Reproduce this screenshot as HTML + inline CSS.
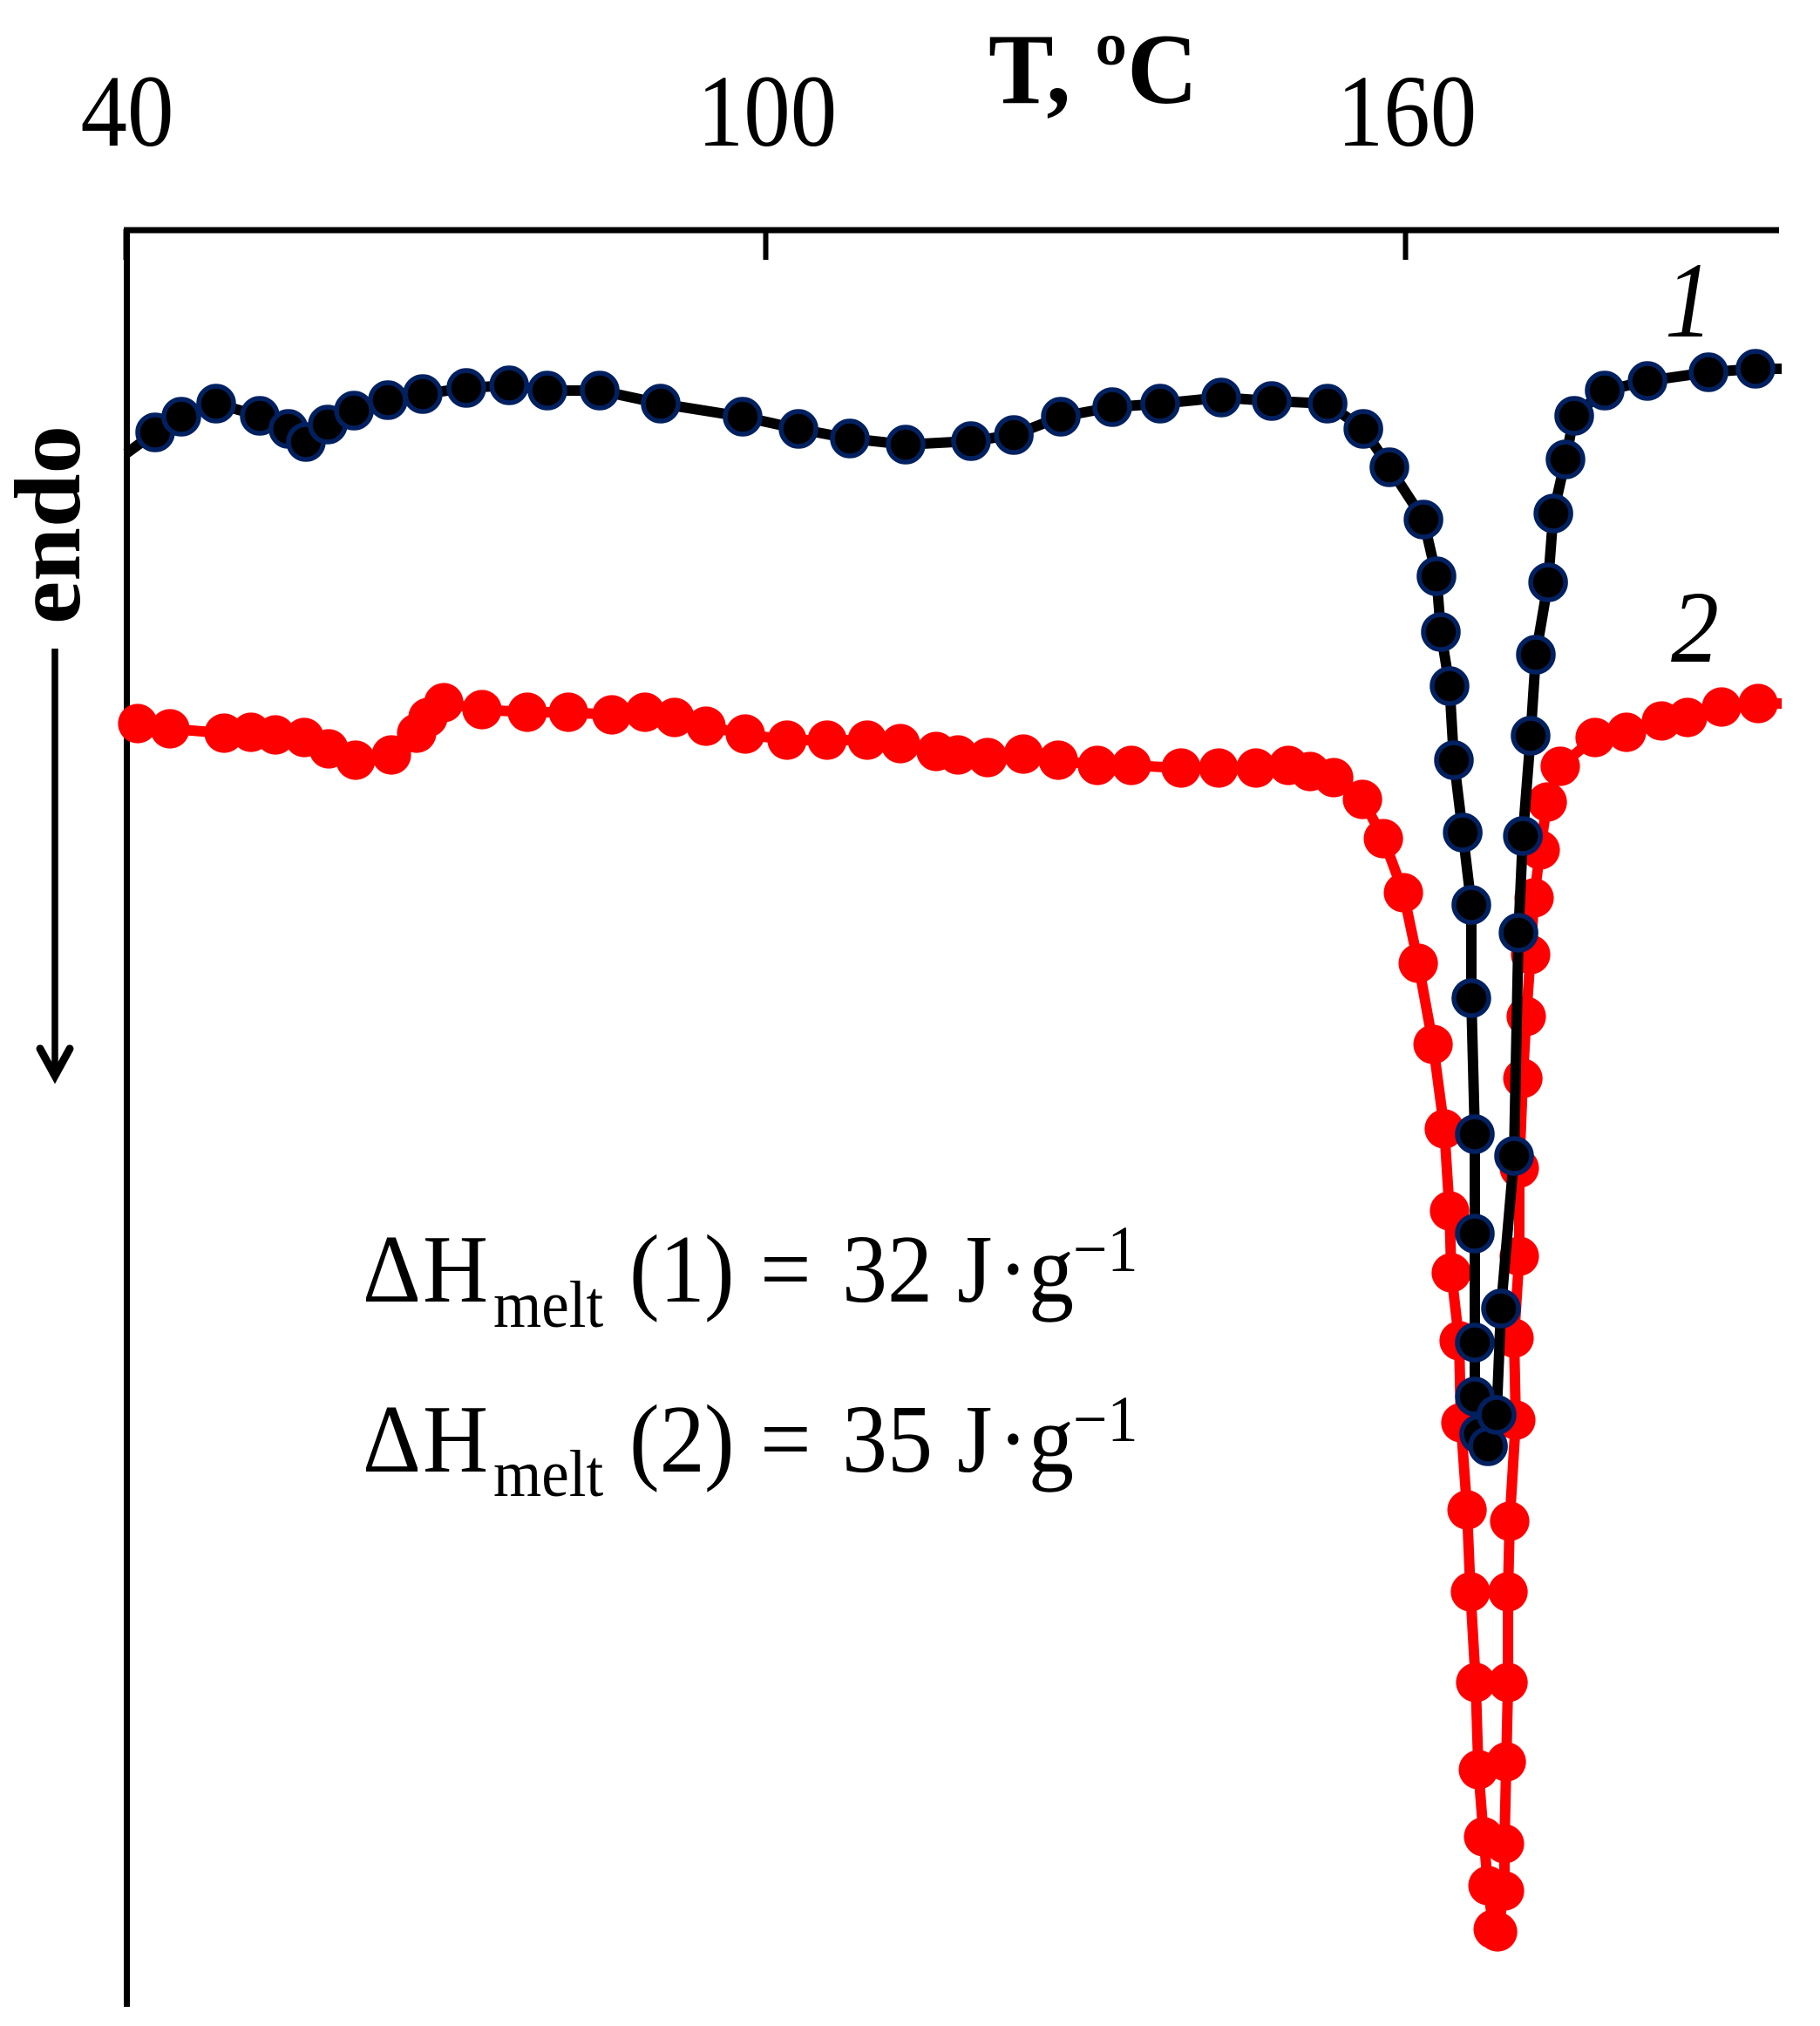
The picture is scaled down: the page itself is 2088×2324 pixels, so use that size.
<!DOCTYPE html>
<html lang="en">
<head>
<meta charset="utf-8">
<title>DSC melting curves</title>
<style>
  html, body { margin: 0; padding: 0; background: #fff; }
  svg { display: block; }
  text { font-family: "Liberation Serif", serif; fill: #000; }
</style>
</head>
<body>
<svg id="chart" xmlns="http://www.w3.org/2000/svg" width="2088" height="2324" viewBox="0 0 2088 2324">
  <rect x="0" y="0" width="2088" height="2324" fill="#fff"/>
  <g id="axes">
    <line x1="145.5" y1="260.5" x2="145.5" y2="2302" stroke="#000" stroke-width="7"/>
    <line x1="142" y1="264" x2="2041" y2="264" stroke="#000" stroke-width="7"/>
  </g>
  <g id="ticks"></g>
  <g id="curves"></g>

  <text transform="translate(1134,118) scale(1,1.05)" font-size="110" font-weight="bold" textLength="240" lengthAdjust="spacingAndGlyphs">T, ºC</text>

  <text transform="translate(1910,386) scale(1,1.13)" font-size="110" font-style="italic">1</text>
  <text transform="translate(1917,759) scale(1,1.07)" font-size="110" font-style="italic">2</text>

  <text transform="translate(91,716) rotate(-90)" font-size="108" font-weight="bold" textLength="228" lengthAdjust="spacingAndGlyphs">endo</text>
  <g>
    <line x1="63" y1="744" x2="63" y2="1232" stroke="#000" stroke-width="7.5"/>
    <path d="M46,1203 L63,1234 L80,1203" fill="none" stroke="#000" stroke-width="9" stroke-linecap="round" stroke-linejoin="miter"/>
    <polygon points="55,1220 71,1220 63,1242" fill="#000"/>
  </g>

  <g>
    <text transform="translate(0,1493) scale(1,1.07)" font-size="104"><tspan x="416">Δ</tspan><tspan x="485">H</tspan><tspan x="722">(1</tspan><tspan x="808">)</tspan><tspan x="872">=</tspan><tspan x="966">32</tspan><tspan x="1098">J</tspan><tspan x="1145">·</tspan><tspan x="1180">g</tspan></text>
    <text transform="translate(566,1522) scale(1,1.07)" font-size="71">melt</text>
    <text transform="translate(1231,1458) scale(1,1.07)" font-size="70">−1</text>
  </g>
  <g>
    <text transform="translate(0,1688) scale(1,1.07)" font-size="104"><tspan x="416">Δ</tspan><tspan x="485">H</tspan><tspan x="722">(2</tspan><tspan x="808">)</tspan><tspan x="872">=</tspan><tspan x="966">35</tspan><tspan x="1098">J</tspan><tspan x="1145">·</tspan><tspan x="1180">g</tspan></text>
    <text transform="translate(566,1716) scale(1,1.07)" font-size="71">melt</text>
    <text transform="translate(1231,1653) scale(1,1.07)" font-size="70">−1</text>
  </g>
</svg>
<script>
// Axis values
const xTickValues = [40, 100, 160];
const xTickLabels = ["40", "100", "160"];

// Curve 1 (black): temperature in deg C, heat flow in arbitrary units
const curve1Temp = [40.00,42.70,45.15,48.42,52.51,55.20,56.84,58.88,61.34,64.52,
  67.79,71.88,75.89,79.48,84.39,90.11,97.79,103.03,107.85,113.08,
  119.21,123.22,127.63,132.45,136.95,142.67,147.41,152.65,156.00,158.45,
  161.64,162.86,163.27,164.09,164.50,165.32,166.13,166.13,166.46,166.46,
  166.46,166.46,166.87,167.69,168.50,168.91,170.14,170.55,170.96,171.69,
  172.18,173.33,173.82,174.96,175.78,178.64,182.65,188.37,192.78,195.24];
const curve1Signal = [-25.7,-23.3,-21.5,-20.0,-21.4,-22.9,-24.4,-22.4,-20.8,-19.6,
  -18.9,-18.2,-17.9,-18.5,-18.5,-20.0,-21.5,-22.9,-24.0,-24.7,
  -24.3,-23.6,-21.5,-20.4,-20.0,-19.3,-19.7,-20.0,-22.9,-27.3,
  -33.3,-39.8,-46.2,-52.4,-60.9,-69.2,-77.5,-88.2,-103.8,-115.2,
  -127.7,-133.9,-138.2,-139.6,-136.0,-123.8,-106.3,-80.7,-69.6,-58.1,
  -48.8,-40.5,-32.6,-26.4,-21.4,-18.5,-17.4,-16.4,-16.0,-16.0];

// Curve 2 (red): temperature in deg C, heat flow in arbitrary units
const curve2Temp = [41.06,44.09,49.16,51.69,53.98,56.68,58.97,61.50,64.85,67.22,
  68.28,69.76,73.35,77.60,81.45,85.53,88.64,91.42,94.36,98.04,
  101.96,105.72,109.48,112.59,115.94,117.99,120.77,124.12,127.39,131.06,
  134.25,138.91,142.43,145.94,148.97,151.01,153.22,155.92,157.88,159.76,
  161.15,162.54,163.60,164.09,164.25,164.99,165.15,165.73,166.05,166.54,
  166.79,167.28,167.69,168.18,168.59,169.24,169.24,169.41,169.57,169.57,
  169.73,170.30,170.14,170.63,170.63,170.96,171.28,171.69,172.02,172.59,
  173.25,174.47,177.74,180.68,183.96,186.41,189.60,193.03,195.24];
const curve2Signal = [-56.7,-57.3,-57.8,-57.7,-58.0,-58.3,-59.6,-60.9,-60.3,-57.8,
  -56.0,-54.3,-55.1,-55.4,-55.4,-55.7,-55.4,-56.0,-57.0,-57.9,
  -58.6,-58.6,-58.6,-59.0,-59.9,-60.3,-60.6,-60.2,-60.9,-61.5,
  -61.5,-61.8,-61.8,-61.8,-61.5,-62.2,-62.9,-65.4,-69.9,-76.1,
  -84.2,-93.5,-103.2,-112.6,-119.7,-127.5,-136.9,-146.9,-156.3,-166.7,
  -176.7,-184.4,-190.0,-195.0,-195.3,-190.6,-185.2,-175.8,-166.7,-156.3,
  -148.2,-136.6,-127.2,-117.8,-107.7,-97.4,-90.3,-83.2,-76.7,-71.2,
  -65.7,-61.6,-58.3,-57.7,-56.4,-56.0,-54.8,-54.4,-54.4];

const SVG_NS = "http://www.w3.org/2000/svg";

function xScale(t) {
  return 145 + (t - 40) * (734 / 60);
}
function yScale(s) {
  return 263 - s * 10;
}

const ticksGroup = document.getElementById("ticks");
xTickValues.forEach(function (t, i) {
  const tick = document.createElementNS(SVG_NS, "line");
  
  
  tick.setAttribute("x1", xScale(t) - 0.5);
  tick.setAttribute("x2", xScale(t) - 0.5);
  tick.setAttribute("y1", 263);
  tick.setAttribute("y2", 298);
  tick.setAttribute("stroke", "#000");
  tick.setAttribute("stroke-width", 6);
  ticksGroup.appendChild(tick);

  const label = document.createElementNS(SVG_NS, "text");
  
  
  label.setAttribute("transform", "translate(" + (xScale(t) + 1) + ",167) scale(1,1.1)");
  label.setAttribute("text-anchor", "middle");
  label.setAttribute("font-size", 107);
  label.textContent = xTickLabels[i];
  ticksGroup.appendChild(label);
});

function drawCurve(temps, signals, color, markerStroke, firstMarker, lastMarker, curveName) {
  const host = document.getElementById("curves");
  const group = document.createElementNS(SVG_NS, "g");
  
  

  const line = document.createElementNS(SVG_NS, "polyline");
  
  
  line.setAttribute("points", temps.map(function (t, i) {
    return xScale(t).toFixed(1) + "," + yScale(signals[i]).toFixed(1);
  }).join(" "));
  line.setAttribute("fill", "none");
  line.setAttribute("stroke", color);
  line.setAttribute("stroke-width", 12);
  line.setAttribute("stroke-linejoin", "round");
  group.appendChild(line);

  for (let i = firstMarker; i <= lastMarker; i++) {
    const dot = document.createElementNS(SVG_NS, "circle");
    
    
    dot.setAttribute("cx", xScale(temps[i]).toFixed(1));
    dot.setAttribute("cy", yScale(signals[i]).toFixed(1));
    dot.setAttribute("fill", color);
    if (markerStroke) {
      dot.setAttribute("r", 20);
      dot.setAttribute("stroke", markerStroke);
      dot.setAttribute("stroke-width", 5.5);
    } else {
      dot.setAttribute("r", 22.6);
    }
    group.appendChild(dot);
  }
  host.appendChild(group);
}

drawCurve(curve2Temp, curve2Signal, "#ff0000", null, 0, curve2Temp.length - 2, "curve-2");
drawCurve(curve1Temp, curve1Signal, "#000000", "#002060", 1, curve1Temp.length - 2, "curve-1");
</script>
</body>
</html>
